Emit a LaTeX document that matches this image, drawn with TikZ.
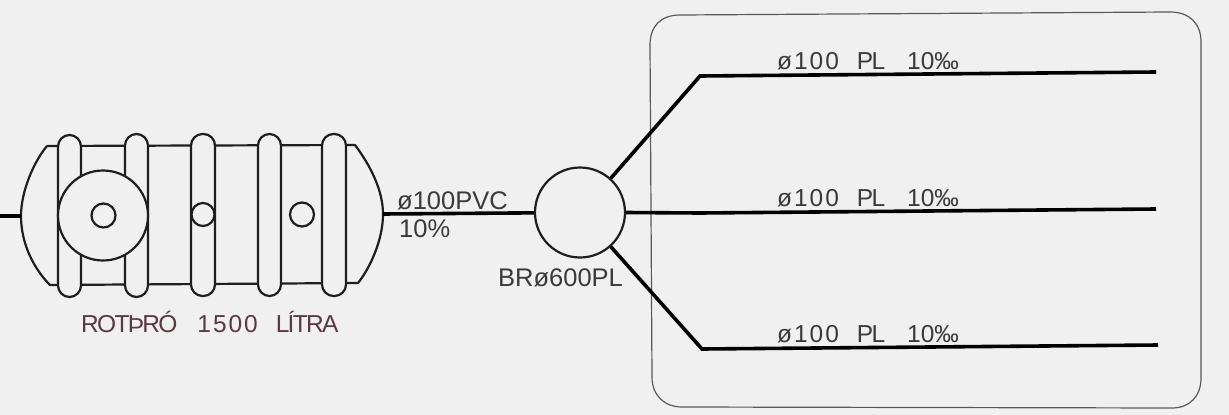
\documentclass[tikz,border=0pt]{standalone}
\usepackage{fontspec}
\setmainfont{Liberation Sans}
\newfontface\widefig[LetterSpace=8]{Liberation Sans}
\newfontface\narrowcap[LetterSpace=-7]{Liberation Sans}
\definecolor{bg}{HTML}{F0F0F0}
\definecolor{ink}{HTML}{1E1E1E}
\definecolor{lab}{HTML}{3A3A3A}
\definecolor{redlab}{HTML}{5A3A40}
\tikzset{
  x=1pt,y=-1pt,
  outline/.style={draw=ink,line width=2.2pt},
  band/.style={draw=ink,fill=bg,line width=2.2pt,rounded corners=11.5pt},
  hole/.style={circle,draw=ink,fill=bg,line width=2.2pt,inner sep=0pt},
  pipe/.style={draw=black,line width=3.6pt,line join=miter},
  lbl/.style={inner sep=0pt,text=lab,font=\fontsize{25.5}{28}\selectfont,anchor=base west},
  lblb/.style={lbl,font=\fontsize{24.5}{28}\selectfont},
}
\newcommand{\pipelabel}{{\widefig ø100}\hspace{18pt}{\narrowcap PL}\hspace{22pt}10‰}
\begin{document}
\begin{tikzpicture}
\useasboundingbox[fill=bg] (0,0) rectangle (1229,415);
% boundary
\draw[draw=black!65,line width=1.2pt] (680,15) -- (1170,12)
  .. controls (1190,12) and (1201,24) .. (1201,42) -- (1201,378)
  .. controls (1201,396) and (1190,408) .. (1172,408) -- (682,407)
  .. controls (664,407) and (652,395) .. (652,377) -- (650,45)
  .. controls (650,26) and (661,15) .. (680,15) -- cycle;
% tank
\coordinate (tankL) at (21,216);
\coordinate (tankR) at (383,214);
\draw[outline,line join=round] (47,146) -- (355,145)
  .. controls (370,165) and (383,190) .. (tankR)
  .. controls (383,240) and (370,268) .. (358,283) -- (50,285)
  .. controls (35,270) and (21,245) .. (tankL)
  .. controls (21,190) and (35,160) .. (47,146);
\draw[band] (58,135) rectangle (81,297);
\draw[band] (125,134) rectangle (148,297);
\draw[band] (191,134) rectangle (215,296);
\draw[band] (258,134) rectangle (281,296);
\draw[band] (322,134) rectangle (346,296);
\node[hole,minimum size=90pt] (lid) at (103,215.5) {};
\node[hole,minimum size=24pt] (h1) at (103.5,215.5) {};
\node[hole,minimum size=23pt] (h2) at (203,214.5) {};
\node[hole,minimum size=24pt] (h3) at (302,214.5) {};
% inspection chamber
\node[hole,minimum size=90pt] (mh) at (580,212.5) {};
% pipes
\coordinate (inlet) at (0,216);
\coordinate (b1) at (700,76);
\coordinate (e1) at (1156,72);
\coordinate (b2) at (700,213);
\coordinate (e2) at (1156,209);
\coordinate (b3) at (702,349);
\coordinate (e3) at (1158,345);
\draw[pipe] (inlet) -- (tankL);
\draw[pipe] (tankR) -- (mh);
\draw[pipe] (mh.48) -- (b1) -- (e1);
\draw[pipe] (mh.east) -- (b2) -- (e2);
\draw[pipe] (mh.-48) -- (b3) -- (e3);
% labels
\node[lbl] (t0) at (397,209) {ø100PVC};
\node[lbl] (t1) at (399,237) {10\%};
\node[lbl] (t2) at (498,286) {BRø600PL};
\node[lblb,text=redlab] (t3) at (81,332) {{\narrowcap ROTÞRÓ}\hspace{20pt}{\widefig 1500}\hspace{18pt}{\narrowcap LÍTRA}};
\node[lblb] (t4) at (777,69) {\pipelabel};
\node[lblb] (t5) at (777,206) {\pipelabel};
\node[lblb] (t6) at (777,342) {\pipelabel};
\end{tikzpicture}
\end{document}
